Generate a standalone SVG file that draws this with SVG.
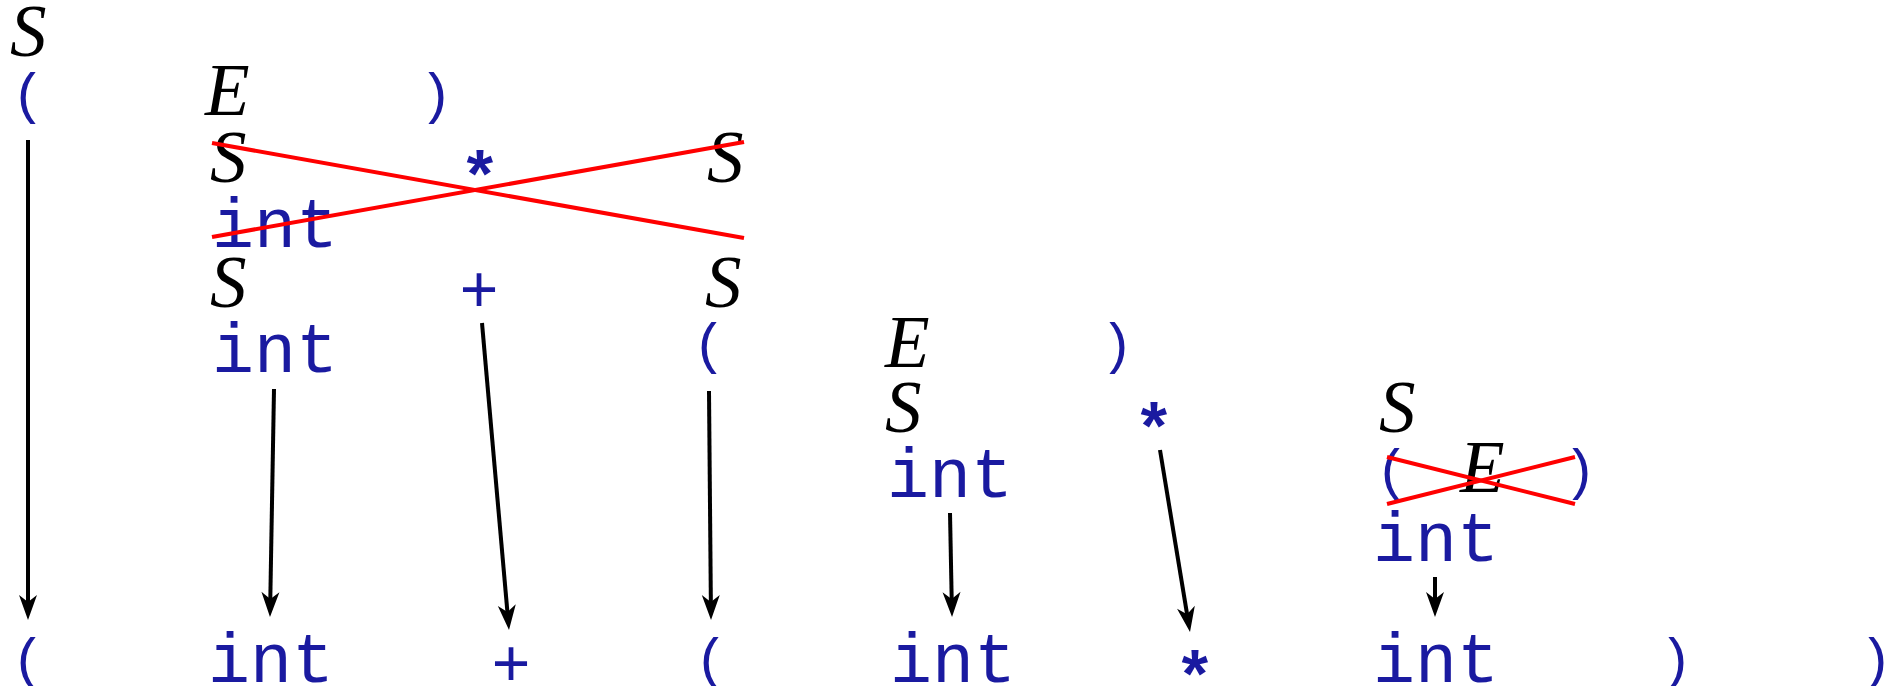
<svg xmlns="http://www.w3.org/2000/svg" width="1892" height="686" viewBox="0 0 1892 686">
<style>
.nt{font-family:"Liberation Serif",serif;font-style:italic;font-size:73px;fill:#000}
.tt{font-family:"Liberation Mono",monospace;font-size:70px;fill:#1a1aa0}
.pr{font-family:"Liberation Mono",monospace;font-size:56px;fill:#1a1aa0}
.st{font-family:"Liberation Mono",monospace;font-size:68px;font-weight:bold;fill:#1a1aa0}
.op{font-family:"Liberation Mono",monospace;font-size:66px;fill:#1a1aa0}
.ar{stroke:#000;stroke-width:4;fill:none;marker-end:url(#ah)}
.x{stroke:#ff0000;stroke-width:4;fill:none}
</style>
<defs>
<marker id="ah" markerUnits="userSpaceOnUse" markerWidth="30" markerHeight="22" refX="0" refY="0" viewBox="-15 -11 30 22" orient="auto" overflow="visible">
<path d="M12,0 L-13,-9 L-6,0 L-13,9 Z" fill="#000"/>
</marker>
</defs>
<rect width="1892" height="686" fill="#fff"/>
<g id="n-S0"><text class="nt" x="10" y="56">S</text></g>
<g id="n-lp1"><text class="pr" x="28" y="112" text-anchor="middle">(</text></g>
<g id="n-E1"><text class="nt" x="205" y="115">E</text></g>
<g id="n-rp1"><text class="pr" x="436" y="112" text-anchor="middle">)</text></g>
<g id="n-S2"><text class="nt" x="210" y="182">S</text></g>
<g id="n-star2"><text class="st" x="480" y="200" text-anchor="middle">*</text></g>
<g id="n-S3"><text class="nt" x="707" y="182">S</text></g>
<g id="n-int2"><text class="tt" x="275" y="247" text-anchor="middle">int</text></g>
<g id="n-S4"><text class="nt" x="210" y="307">S</text></g>
<g id="n-plus4"><text class="op" x="479" y="312" text-anchor="middle">+</text></g>
<g id="n-S5"><text class="nt" x="705" y="307">S</text></g>
<g id="n-int4"><text class="tt" x="275" y="372" text-anchor="middle">int</text></g>
<g id="n-lp5"><text class="pr" x="709" y="362" text-anchor="middle">(</text></g>
<g id="n-E5"><text class="nt" x="885" y="367">E</text></g>
<g id="n-rp5"><text class="pr" x="1117" y="362" text-anchor="middle">)</text></g>
<g id="n-S6"><text class="nt" x="885" y="432">S</text></g>
<g id="n-star6"><text class="st" x="1154" y="452" text-anchor="middle">*</text></g>
<g id="n-S7"><text class="nt" x="1379" y="432">S</text></g>
<g id="n-int6"><text class="tt" x="950" y="497" text-anchor="middle">int</text></g>
<g id="n-lp7"><text class="pr" x="1392" y="488" text-anchor="middle">(</text></g>
<g id="n-E7"><text class="nt" x="1460" y="492">E</text></g>
<g id="n-rp7"><text class="pr" x="1580" y="488" text-anchor="middle">)</text></g>
<g id="n-int7"><text class="tt" x="1436" y="561" text-anchor="middle">int</text></g>
<g id="t-lp"><text class="pr" x="28" y="677" text-anchor="middle">(</text></g>
<g id="t-int1"><text class="tt" x="271" y="682" text-anchor="middle">int</text></g>
<g id="t-plus"><text class="op" x="511" y="686" text-anchor="middle">+</text></g>
<g id="t-lp2"><text class="pr" x="711" y="677" text-anchor="middle">(</text></g>
<g id="t-int2"><text class="tt" x="953" y="682" text-anchor="middle">int</text></g>
<g id="t-star"><text class="st" x="1195" y="700" text-anchor="middle">*</text></g>
<g id="t-int3"><text class="tt" x="1436" y="682" text-anchor="middle">int</text></g>
<g id="t-rp1"><text class="pr" x="1676" y="677" text-anchor="middle">)</text></g>
<g id="t-rp2"><text class="pr" x="1876" y="677" text-anchor="middle">)</text></g>
<g id="strikes">
<line class="x" x1="212" y1="143" x2="744" y2="238"/>
<line class="x" x1="212" y1="237" x2="744" y2="142"/>
<line class="x" x1="1387" y1="457" x2="1575" y2="504"/>
<line class="x" x1="1387" y1="504" x2="1575" y2="457"/>
</g>
<g id="connectors">
<line class="ar" x1="28" y1="140" x2="28" y2="608"/>
<line class="ar" x1="274" y1="389" x2="270.2" y2="605"/>
<line class="ar" x1="482" y1="323" x2="507.95" y2="618.05"/>
<line class="ar" x1="709" y1="391" x2="710.9" y2="608"/>
<line class="ar" x1="950" y1="513" x2="951.8" y2="605"/>
<line class="ar" x1="1160" y1="450" x2="1188.05" y2="620.16"/>
<line class="ar" x1="1435" y1="577" x2="1435" y2="605"/>
</g>
</svg>
